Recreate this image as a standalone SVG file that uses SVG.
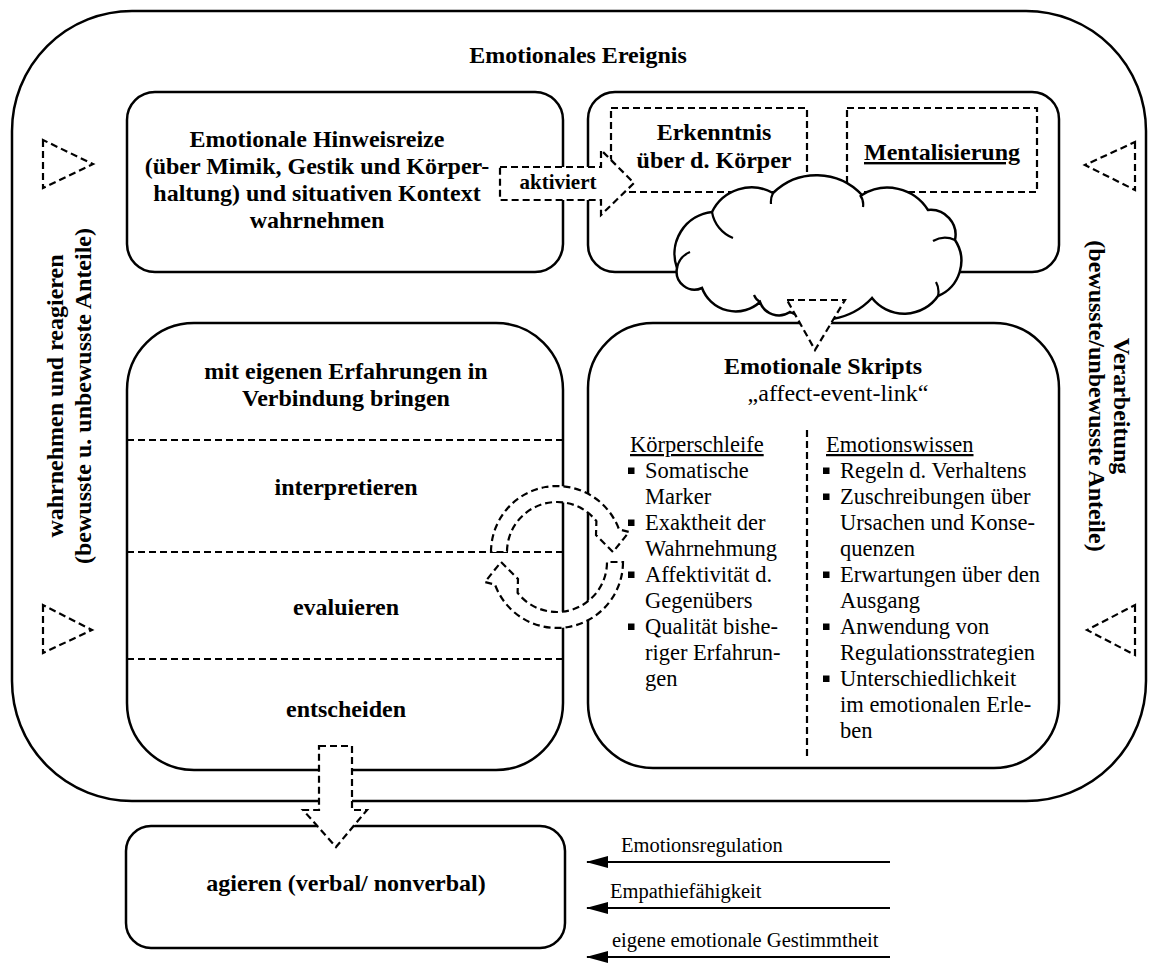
<svg xmlns="http://www.w3.org/2000/svg" width="1158" height="963" viewBox="0 0 1158 963">
<defs>
<style>
.solid{fill:#fff;stroke:#000;stroke-width:2.5}
.dash{fill:#fff;stroke:#000;stroke-width:2.2;stroke-dasharray:7 4}
.dl{fill:none;stroke:#000;stroke-width:2.2;stroke-dasharray:7 4}
.ln{fill:none;stroke:#000;stroke-width:2.2}
.b{font-family:"Liberation Serif","Times New Roman",serif;font-weight:bold;font-size:24px;text-anchor:middle;fill:#000}
.r{font-family:"Liberation Serif","Times New Roman",serif;font-size:22.5px;fill:#000}
.s{font-family:"Liberation Serif","Times New Roman",serif;font-size:20.5px;fill:#000}
.bul{fill:#000}
</style>
<marker id="ah" viewBox="0 0 22 12" refX="21" refY="6" markerWidth="22" markerHeight="12" markerUnits="userSpaceOnUse" orient="auto">
<path d="M0,0 L22,6 L0,12 Z" fill="#000"/>
</marker>
</defs>
<rect width="1158" height="963" fill="#fff"/>

<g id="outer">
<rect class="solid" x="12" y="11" width="1134" height="790" rx="120" ry="120"/>
<text class="b" x="578" y="63">Emotionales Ereignis</text>
<path class="dl" d="M43,140 L43,188 L93,164 Z"/>
<path class="dl" d="M43,605 L43,653 L92,630 Z"/>
<path class="dl" d="M1135,142 L1135,190 L1085,165 Z"/>
<path class="dl" d="M1135,605 L1135,655 L1087,630 Z"/>
<text class="b" transform="translate(63,396) rotate(-90)">wahrnehmen und reagieren</text>
<text class="b" transform="translate(91,396) rotate(-90)">(bewusste u. unbewusste Anteile)</text>
<text class="b" transform="translate(1114,406) rotate(90)">Verarbeitung</text>
<text class="b" transform="translate(1089,396) rotate(90)">(bewusste/unbewusste Anteile)</text>
</g>

<g id="wahrnehmen">
<rect class="solid" x="127" y="92" width="436" height="180" rx="28" ry="28"/>
<text class="b" x="317" y="147">Emotionale Hinweisreize</text>
<text class="b" x="317" y="174">(über Mimik, Gestik und Körper-</text>
<text class="b" x="317" y="201">haltung) und situativen Kontext</text>
<text class="b" x="317" y="228">wahrnehmen</text>
</g>

<g id="erkenntnis-box">
<rect class="solid" x="588" y="92" width="471" height="180" rx="27" ry="27"/>
</g>
<g id="erkenntnis">
<rect class="dash" x="611" y="108" width="196" height="84"/>
<text class="b" x="714" y="140">Erkenntnis</text>
<text class="b" x="714" y="168">über d. Körper</text>
</g>
<g id="mentalisierung">
<rect class="dash" x="847" y="108" width="190" height="84"/>
<text class="b" x="942" y="160" text-decoration="underline">Mentalisierung</text>
</g>

<g id="verbindung">
<rect class="solid" x="127" y="323" width="436" height="447" rx="67" ry="67"/>
<line class="dl" x1="127" y1="440" x2="563" y2="440"/>
<line class="dl" x1="127" y1="552" x2="563" y2="552"/>
<line class="dl" x1="127" y1="659" x2="563" y2="659"/>
<text class="b" x="346" y="379">mit eigenen Erfahrungen in</text>
<text class="b" x="346" y="406">Verbindung bringen</text>
<text class="b" x="346" y="495">interpretieren</text>
<text class="b" x="346" y="615">evaluieren</text>
<text class="b" x="346" y="717">entscheiden</text>
</g>

<g id="skripts">
<rect class="solid" x="588" y="323" width="471" height="445" rx="65" ry="65"/>
<text class="b" x="823" y="374">Emotionale Skripts</text>
<text class="b" x="838" y="401" style="font-weight:normal">„affect-event-link“</text>
<line class="dl" x1="807" y1="430" x2="807" y2="760"/>
<text class="r" x="630" y="452" text-decoration="underline">Körperschleife</text>
<g class="bul">
<rect x="628" y="467.5" width="6.5" height="6.5"/>
<rect x="628" y="519.5" width="6.5" height="6.5"/>
<rect x="628" y="571.5" width="6.5" height="6.5"/>
<rect x="628" y="623.5" width="6.5" height="6.5"/>
<rect x="823" y="467.5" width="6.5" height="6.5"/>
<rect x="823" y="493.5" width="6.5" height="6.5"/>
<rect x="823" y="571.5" width="6.5" height="6.5"/>
<rect x="823" y="623.5" width="6.5" height="6.5"/>
<rect x="823" y="675.5" width="6.5" height="6.5"/>
</g>
<text class="r" x="645" y="478">Somatische</text>
<text class="r" x="645" y="504">Marker</text>
<text class="r" x="645" y="530">Exaktheit der</text>
<text class="r" x="645" y="556">Wahrnehmung</text>
<text class="r" x="645" y="582">Affektivität d.</text>
<text class="r" x="645" y="608">Gegenübers</text>
<text class="r" x="645" y="634">Qualität bishe-</text>
<text class="r" x="645" y="660">riger Erfahrun-</text>
<text class="r" x="645" y="686">gen</text>
<text class="r" x="826" y="452" text-decoration="underline">Emotionswissen</text>
<text class="r" x="840" y="478">Regeln d. Verhaltens</text>
<text class="r" x="840" y="504">Zuschreibungen über</text>
<text class="r" x="840" y="530">Ursachen und Konse-</text>
<text class="r" x="840" y="556">quenzen</text>
<text class="r" x="840" y="582">Erwartungen über den</text>
<text class="r" x="840" y="608">Ausgang</text>
<text class="r" x="840" y="634">Anwendung von</text>
<text class="r" x="840" y="660">Regulationsstrategien</text>
<text class="r" x="840" y="686">Unterschiedlichkeit</text>
<text class="r" x="840" y="712">im emotionalen Erle-</text>
<text class="r" x="840" y="738">ben</text>
</g>

<g id="agieren">
<rect class="solid" x="126" y="826" width="439" height="122" rx="25" ry="25"/>
<text class="b" x="346" y="891">agieren (verbal/ nonverbal)</text>
</g>

<g id="cloud">
<path class="solid" stroke-width="2.2" d="M677,268 A42,42 0 0 1 712,212 A44,44 0 0 1 773,193 A62,62 0 0 1 862,195 A48,48 0 0 1 928,210 A25,25 0 0 1 955,240 A38,38 0 0 1 938,296 A41,41 0 0 1 872,298 A69,69 0 0 1 790,312 A20,20 0 0 1 760,302 A36,36 0 0 1 702,288 A18,18 0 0 1 677,268 Z"/>
<path class="ln" d="M712,212 A34,34 0 0 0 733,238 M773,193 A20,20 0 0 0 771,204 M860,195 A16,16 0 0 1 863,207 M955,240 A24,24 0 0 0 933,241 M938,296 A20,20 0 0 0 936,282 M677,268 A22,22 0 0 1 690,252 M760,302 A14,14 0 0 1 754,295"/>
</g>

<g id="connectors">
<path class="dash" d="M787,300 L845,300 L815,350 Z"/>
<path class="dash" d="M500,167 L601,167 L601,150 L634,183 L601,215 L601,200 L500,200 Z"/>
<text class="b" x="558" y="189" style="font-size:21px">aktiviert</text>
<path class="dash" d="M491,552 A66,66 0 0 1 619,529.4 L629,532 L613,552 L596,535 L596.4,521.2 A50,50 0 0 0 507,552 Z"/>
<path class="dash" transform="rotate(180 557 557)" d="M491,552 A66,66 0 0 1 619,529.4 L629,532 L613,552 L596,535 L596.4,521.2 A50,50 0 0 0 507,552 Z"/>
<path class="dash" d="M319,746 L352,746 L352,810 L367,810 L336,847 L303,810 L319,810 Z"/>
<line class="ln" x1="890" y1="862" x2="587" y2="862" marker-end="url(#ah)"/>
<line class="ln" x1="890" y1="908" x2="587" y2="908" marker-end="url(#ah)"/>
<line class="ln" x1="890" y1="957" x2="587" y2="957" marker-end="url(#ah)"/>
<text class="s" x="621" y="852">Emotionsregulation</text>
<text class="s" x="610" y="898">Empathiefähigkeit</text>
<text class="s" x="612" y="947">eigene emotionale Gestimmtheit</text>
</g>
</svg>
